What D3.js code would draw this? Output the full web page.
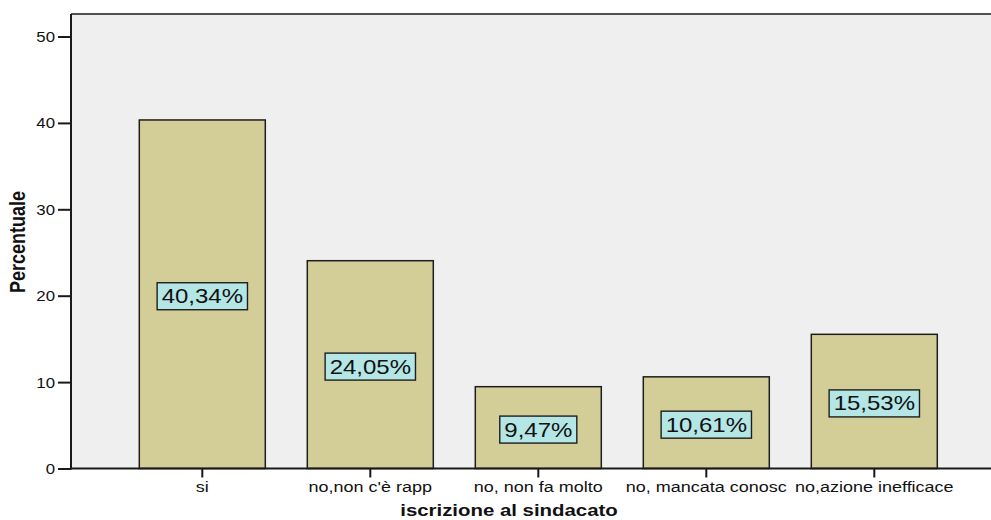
<!DOCTYPE html>
<html>
<head>
<meta charset="utf-8">
<script src="https://cdn.jsdelivr.net/npm/d3@7"></script>
<style>
  html, body { margin: 0; padding: 0; background: #ffffff; }
  svg { display: block; font-family: "Liberation Sans", Arial, sans-serif; }
</style>
</head>
<body>
<svg id="chart" width="991" height="520"></svg>
<script>
// Categories and percentages for "iscrizione al sindacato"
const categories = ["si", "no,non c'è rapp", "no, non fa molto", "no, mancata conosc", "no,azione inefficace"];
const percentages = [40.34, 24.05, 9.47, 10.61, 15.53];
const yTicks = [0, 10, 20, 30, 40, 50];
const valueLabels = ["40,34%", "24,05%", "9,47%", "10,61%", "15,53%"];

const svg = d3.select("#chart");
const W = 991;
const plotLeft = 71, plotTop = 14, plotBottom = 468.5;
const stretch = 1.2; // horizontal text stretch

const y = d3.scaleLinear().domain([0, 50]).range([plotBottom, 36.5]);
const x = d3.scaleBand().domain(categories)
  .range([118.3, 958.3]).paddingInner(0.25).paddingOuter(0.125);

// plot background and frame
svg.append("rect")
  .attr("x", plotLeft).attr("y", plotTop)
  .attr("width", W - plotLeft).attr("height", plotBottom - plotTop)
  .attr("fill", "#efefef");
svg.append("line")
  .attr("x1", plotLeft).attr("x2", W).attr("y1", plotTop).attr("y2", plotTop)
  .attr("stroke", "#1a1a1a").attr("stroke-width", 1.6);

// bars
svg.append("g").selectAll("rect")
  .data(percentages)
  .join("rect")
  .attr("x", (d, i) => x(categories[i]))
  .attr("y", d => y(d))
  .attr("width", x.bandwidth())
  .attr("height", d => y(0) - y(d))
  .attr("fill", "#d3ce98")
  .attr("stroke", "#1e1e1e")
  .attr("stroke-width", 1.5);

// y axis
const yAxis = d3.axisLeft(y).tickValues(yTicks).tickSize(13).tickPadding(3).tickFormat(d3.format("d"));
const gy = svg.append("g").attr("transform", `translate(${plotLeft},0)`).call(yAxis);
gy.select(".domain").remove();
gy.selectAll(".tick line").attr("stroke", "#1a1a1a").attr("stroke-width", 2);
gy.selectAll(".tick text")
  .attr("fill", "#111").attr("font-size", 14).attr("font-family", null)
  .attr("x", null).attr("dy", null)
  .attr("dominant-baseline", "central")
  .attr("transform", `translate(-16,0) scale(${stretch},1)`);
svg.append("line")
  .attr("x1", plotLeft).attr("x2", plotLeft).attr("y1", plotTop).attr("y2", plotBottom + 1)
  .attr("stroke", "#1a1a1a").attr("stroke-width", 2);

// x axis
const xAxis = d3.axisBottom(x).tickSize(9).tickPadding(5);
const gx = svg.append("g").attr("transform", `translate(0,${plotBottom})`).call(xAxis);
gx.select(".domain").remove();
gx.selectAll(".tick line").attr("stroke", "#1a1a1a").attr("stroke-width", 2);
gx.selectAll(".tick text")
  .attr("fill", "#111").attr("font-size", 15).attr("font-family", null)
  .attr("y", null).attr("dy", null)
  .attr("transform", `translate(0,23.5) scale(${stretch},1)`);
svg.append("line")
  .attr("x1", plotLeft - 1).attr("x2", W).attr("y1", plotBottom).attr("y2", plotBottom)
  .attr("stroke", "#1a1a1a").attr("stroke-width", 2);

// value labels in boxes at bar mid-height
const labels = svg.append("g").selectAll("g")
  .data(percentages)
  .join("g")
  .attr("transform", (d, i) => `translate(${x(categories[i]) + x.bandwidth() / 2},${(y(d) + y(0)) / 2 + 2})`);
labels.each(function (d, i) {
  const g = d3.select(this);
  const box = g.append("rect").attr("fill", "#b4e6e6").attr("stroke", "#1e1e1e").attr("stroke-width", 1.4);
  const t = g.append("text")
    .attr("text-anchor", "middle")
    .attr("font-size", 20)
    .attr("fill", "#111")
    .attr("transform", `translate(0,7) scale(${stretch},1)`)
    .text(valueLabels[i]);
  const w = t.node().getComputedTextLength() * stretch + 9;
  box.attr("x", -w / 2).attr("y", -13.5).attr("width", w).attr("height", 27);
});

// axis titles
svg.append("text")
  .attr("text-anchor", "middle")
  .attr("font-size", 17).attr("font-weight", "bold").attr("fill", "#111")
  .attr("transform", `translate(509,516) scale(${stretch},1)`)
  .text("iscrizione al sindacato");
svg.append("text")
  .attr("text-anchor", "middle")
  .attr("font-size", 18).attr("font-weight", "bold").attr("fill", "#111")
  .attr("transform", `translate(24.5,242) scale(${stretch},1) rotate(-90)`)
  .text("Percentuale");
</script>
</body>
</html>
